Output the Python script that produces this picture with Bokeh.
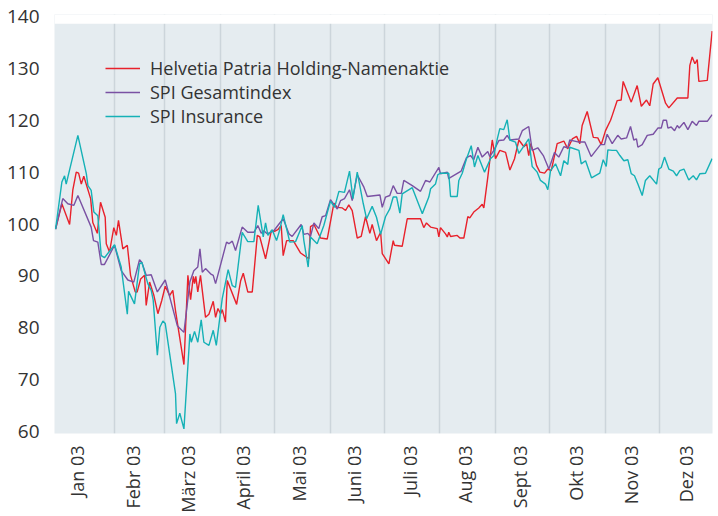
import math
from bokeh.plotting import figure
from bokeh.models import Range1d, FixedTicker, BoxAnnotation
from bokeh.embed import file_html
from bokeh.resources import INLINE

# ---------------- data ----------------
month_labels = ["Jan 03", "Febr 03", "März 03", "April 03", "Mai 03", "Juni 03",
                "Juli 03", "Aug 03", "Sept 03", "Okt 03", "Nov 03", "Dez 03"]
month_starts = [31, 59, 90, 120, 151, 181, 212, 243, 273, 304, 334]  # day of year
y_ticks = [60, 70, 80, 90, 100, 110, 120, 130, 140]

series_names = ["Helvetia Patria Holding-Namenaktie", "SPI Gesamtindex", "SPI Insurance"]

red_day = [-1.8, 1.7, 6.0, 7.8, 9.7, 11.0, 12.5, 13.9, 17.7, 18.9, 21.4, 23.2, 25.8, 26.4, 28.2,
           30.6, 32.0, 33.2, 35.6, 38.1, 39.9, 42.5, 43.6, 45.5, 47.7, 48.6, 50.5, 52.9, 55.1,
           57.3, 59.2, 61.6, 63.4, 64.9, 69.6, 71.8, 73.3, 74.8, 75.5, 76.2, 77.3, 78.8, 81.6,
           83.5, 85.9, 87.2, 88.5, 90.0, 90.9, 92.7, 93.7, 98.9, 101.1, 102.6, 105.1, 107.6,
           110.4, 111.8, 115.0, 118.2, 120.0, 121.8, 123.7, 124.8, 126.7, 130.4, 134.5, 139.1,
           140.0, 141.9, 145.6, 149.3, 153.0, 154.9, 157.7, 159.5, 161.3, 163.2, 166.0, 168.2,
           170.6, 173.0, 174.3, 176.7, 179.0, 179.9, 183.6, 186.0, 186.7, 191.0, 193.8, 201.2,
           203.0, 204.5, 206.8, 210.5, 211.4, 212.3, 215.1, 216.1, 216.9, 217.9, 221.6, 223.1,
           225.3, 227.5, 228.6, 230.8, 233.6, 235.5, 236.4, 238.6, 241.1, 242.9, 245.3, 248.5,
           250.9, 253.5, 255.9, 258.7, 260.2, 261.4, 262.4, 263.9, 265.7, 267.6, 270.2, 272.0,
           273.9, 277.2, 280.9, 283.1, 285.6, 288.0, 289.8, 291.1, 293.9, 297.3, 299.8, 301.7,
           304.1, 306.9, 307.8, 310.6, 312.8, 313.9, 318.4, 321.7, 324.0, 326.9, 328.7, 330.6,
           333.2, 337.5, 339.3, 344.0, 349.9, 351.0, 352.3, 353.8, 355.1, 356.0, 360.7, 363.4]
red_val = [99.0, 103.9, 99.9, 106.6, 110.0, 109.8, 107.7, 109.2, 104.9, 100.3, 98.2, 104.2, 101.3,
           96.2, 94.6, 99.3, 97.8, 100.7, 95.2, 95.9, 90.1, 86.9, 86.9, 89.4, 90.1, 84.3, 88.8,
           86.2, 82.7, 85.3, 88.0, 86.2, 87.2, 83.3, 72.9, 90.1, 85.4, 89.9, 88.5, 89.9, 86.9,
           90.1, 82.0, 82.6, 85.1, 82.0, 83.7, 82.7, 83.5, 81.1, 89.1, 84.5, 89.0, 90.5, 86.9,
           86.9, 97.8, 97.5, 93.3, 98.7, 98.6, 98.9, 99.7, 93.9, 96.8, 96.8, 94.4, 93.3, 99.5,
           99.9, 97.3, 97.1, 104.0, 103.2, 103.1, 102.6, 103.7, 102.6, 97.3, 97.6, 101.4, 98.2,
           99.9, 96.8, 98.4, 94.3, 92.3, 96.8, 95.9, 95.7, 101.0, 101.0, 99.3, 100.2, 99.4, 99.1,
           97.5, 99.3, 98.1, 97.5, 98.4, 97.6, 97.8, 97.3, 97.3, 101.4, 101.2, 102.3, 103.1,
           103.8, 103.1, 109.0, 116.2, 112.6, 114.2, 113.8, 110.4, 112.6, 116.2, 114.9, 115.5,
           113.2, 115.5, 114.0, 111.3, 110.0, 109.8, 110.6, 110.3, 115.5, 116.0, 114.5, 116.4,
           116.9, 115.5, 119.0, 121.7, 116.7, 116.6, 115.3, 118.0, 120.0, 120.9, 123.8, 123.9,
           127.5, 123.5, 126.7, 122.7, 123.9, 122.8, 127.0, 128.2, 123.3, 122.4, 124.3, 124.3,
           130.6, 132.2, 130.9, 131.7, 127.5, 127.7, 137.2]

purple_day = [-1.8, 2.2, 5.0, 8.4, 10.6, 18.0, 19.3, 21.7, 23.6, 25.4, 31.0, 34.7, 38.4, 41.7,
              44.9, 46.2, 48.6, 51.4, 54.8, 59.2, 65.9, 69.6, 72.9, 75.1, 77.3, 78.5, 79.8, 81.6,
              84.4, 85.9, 87.2, 93.3, 94.6, 96.5, 98.3, 102.0, 105.1, 108.5, 110.7, 112.6, 114.0,
              115.9, 119.6, 122.9, 124.8, 128.0, 129.8, 134.8, 136.3, 138.5, 140.0, 141.9, 144.6,
              146.5, 148.4, 151.1, 153.4, 154.9, 156.7, 158.9, 161.7, 163.2, 166.0, 169.7, 171.6,
              178.6, 179.9, 181.7, 184.1, 186.0, 188.2, 190.5, 191.9, 196.6, 201.2, 204.0, 206.4,
              211.4, 212.3, 216.1, 216.9, 217.9, 223.8, 226.8, 229.0, 230.8, 233.1, 235.5, 238.6,
              239.7, 242.0, 244.8, 247.5, 249.4, 250.9, 255.9, 257.8, 261.4, 263.3, 266.4, 269.5,
              272.6, 275.7, 278.1, 280.9, 283.1, 284.2, 289.3, 292.6, 296.1, 301.3, 303.5, 305.0,
              307.8, 310.9, 312.8, 315.8, 318.0, 319.8, 321.3, 322.1, 324.5, 327.3, 330.6, 333.2,
              335.1, 336.2, 338.0, 338.8, 340.6, 342.5, 344.0, 345.1, 347.7, 349.9, 352.3, 354.7,
              356.0, 360.7, 363.4]
purple_val = [99.0, 104.9, 103.9, 103.6, 105.5, 99.4, 96.8, 96.5, 92.2, 92.2, 95.9, 91.0, 89.2,
              88.8, 93.1, 92.6, 90.1, 90.2, 86.9, 89.2, 80.4, 79.1, 88.8, 91.0, 91.7, 95.2, 90.7,
              91.4, 90.4, 90.1, 88.5, 96.5, 96.2, 96.7, 94.9, 99.4, 98.4, 98.4, 99.7, 98.2, 98.7,
              98.1, 98.7, 100.2, 101.0, 98.1, 97.6, 99.9, 98.0, 98.2, 97.6, 100.2, 99.1, 101.4,
              101.6, 104.7, 103.6, 102.9, 104.5, 104.9, 106.6, 104.5, 109.5, 107.1, 105.3, 105.6,
              103.2, 105.2, 105.5, 107.4, 105.9, 105.9, 108.4, 107.4, 106.3, 108.4, 108.1, 110.9,
              109.7, 110.0, 108.7, 109.0, 110.2, 112.8, 113.2, 112.4, 114.8, 112.9, 114.0, 113.0,
              114.2, 116.1, 116.2, 117.1, 116.2, 116.4, 118.0, 118.8, 114.2, 114.7, 113.2, 110.6,
              113.8, 112.9, 114.9, 114.7, 116.2, 115.8, 115.8, 113.0, 115.3, 115.3, 117.3, 115.5,
              117.1, 116.4, 116.6, 118.8, 116.2, 116.4, 114.8, 115.3, 117.1, 117.3, 118.5, 118.5,
              120.0, 120.0, 118.5, 118.7, 118.0, 119.0, 118.5, 119.6, 118.2, 119.8, 119.0, 119.8,
              119.8, 121.1]

cyan_day = [-1.8, 1.7, 3.2, 4.1, 5.0, 10.6, 15.3, 16.2, 18.0, 19.5, 21.7, 23.6, 25.4, 31.0, 34.7,
            38.1, 38.8, 42.1, 44.9, 46.2, 49.5, 51.4, 52.5, 54.8, 56.2, 57.9, 59.2, 64.9, 65.5,
            67.3, 69.6, 72.9, 73.7, 75.5, 77.3, 79.2, 80.7, 83.5, 85.9, 87.6, 90.9, 94.2, 96.5,
            98.3, 102.0, 105.1, 108.5, 110.9, 113.7, 115.0, 116.3, 118.7, 121.1, 122.9, 124.8,
            128.5, 131.7, 135.4, 136.3, 138.7, 140.0, 143.7, 147.4, 151.1, 153.4, 155.8, 158.9,
            161.7, 163.6, 166.0, 169.3, 171.2, 174.3, 176.7, 179.0, 181.7, 184.1, 186.0, 187.9,
            189.7, 191.0, 196.6, 202.2, 205.8, 206.8, 209.5, 210.8, 212.3, 216.9, 217.9, 221.6,
            222.5, 224.4, 226.8, 229.4, 231.2, 233.1, 236.8, 240.1, 242.0, 243.9, 245.3, 247.5,
            249.4, 250.9, 254.0, 255.9, 259.6, 261.4, 263.3, 266.1, 267.9, 270.7, 272.0, 273.5,
            276.3, 279.1, 280.9, 283.1, 284.2, 289.3, 290.6, 293.0, 296.3, 300.9, 302.8, 304.5,
            305.4, 307.8, 310.2, 312.1, 314.3, 316.5, 318.4, 320.2, 322.1, 324.5, 326.3, 328.7,
            332.5, 333.7, 335.1, 336.9, 339.3, 341.8, 343.6, 345.4, 347.7, 350.4, 352.9, 354.7,
            356.6, 359.7, 363.4]
cyan_val = [99.0, 108.1, 109.3, 107.7, 109.0, 117.1, 109.7, 107.4, 106.5, 102.3, 101.6, 93.9, 93.5,
            96.0, 91.7, 82.6, 87.0, 84.6, 92.3, 92.6, 88.5, 87.2, 85.3, 74.7, 80.1, 81.3, 80.8,
            67.3, 61.5, 63.5, 60.5, 78.8, 77.2, 79.3, 77.2, 81.5, 77.2, 76.6, 79.5, 76.6, 85.6,
            91.2, 88.1, 87.8, 98.4, 96.6, 96.6, 103.6, 97.5, 100.2, 97.8, 98.9, 96.8, 98.9, 101.8,
            96.5, 96.6, 99.7, 96.8, 91.7, 97.5, 96.2, 99.7, 104.4, 103.2, 106.3, 106.1, 110.2,
            104.9, 110.0, 104.0, 101.0, 103.4, 101.3, 98.0, 101.4, 102.9, 105.2, 105.2, 102.1,
            105.8, 107.0, 102.0, 105.2, 106.8, 107.7, 109.5, 109.8, 109.8, 105.3, 105.3, 108.4,
            109.8, 112.6, 115.1, 111.0, 113.2, 110.0, 112.6, 113.2, 116.4, 118.4, 118.2, 120.1,
            116.2, 115.8, 113.6, 115.5, 116.4, 111.1, 110.0, 108.4, 107.7, 106.6, 110.3, 111.6,
            109.3, 112.2, 111.5, 114.8, 114.2, 111.6, 112.2, 108.9, 109.8, 112.4, 111.1, 114.3,
            114.2, 114.2, 113.2, 112.2, 112.4, 109.7, 109.3, 107.7, 105.5, 108.4, 109.3, 107.7,
            110.6, 110.9, 112.9, 110.6, 110.2, 109.3, 110.3, 110.6, 108.5, 109.3, 108.5, 109.7,
            109.8, 112.6]

# ---------------- styling constants ----------------
FONT = "Open Sans"
TXT = "#333333"
BG = "#e5ecf0"
GRID = "#ccd5db"
COLORS = ["#e8212b", "#7a51a3", "#15b1b6"]

label_pos = [10.3 + 30.8 * i for i in range(len(month_labels))]

p = figure(width=718, height=516, output_backend="svg", toolbar_location=None,
           x_range=Range1d(-2.4, 363.6), y_range=Range1d(59.6, 140.4),
           min_border_left=54, min_border_right=6, min_border_top=14, min_border_bottom=83)
p.outline_line_color = None
p.background_fill_color = BG
p.border_fill_color = "white"

# grid: vertical month boundaries only
p.xgrid.ticker = FixedTicker(ticks=month_starts)
p.xgrid.grid_line_color = GRID
p.xgrid.grid_line_width = 1.5
p.ygrid.grid_line_color = None

# white strip above the coloured area (140 label sits above the plot area)
p.add_layout(BoxAnnotation(bottom=138.6, fill_color="white", fill_alpha=1.0,
                           line_color=None, level="underlay"))

# axes
p.xaxis.ticker = FixedTicker(ticks=label_pos)
p.xaxis.major_label_overrides = {pos: lab for pos, lab in zip(label_pos, month_labels)}
p.xaxis.major_label_orientation = math.pi / 2
p.xaxis.major_label_standoff = 6
p.yaxis.ticker = FixedTicker(ticks=y_ticks)
p.yaxis.major_label_standoff = 9
for ax in (p.xaxis[0], p.yaxis[0]):
    ax.axis_line_color = None
    ax.major_tick_line_color = None
    ax.minor_tick_line_color = None
    ax.major_label_text_font = FONT
    ax.major_label_text_font_size = "18px"
    ax.major_label_text_color = TXT
p.yaxis.major_label_text_font_size = "19px"

for d, v, c, name in zip([red_day, purple_day, cyan_day], [red_val, purple_val, cyan_val],
                         COLORS, series_names):
    p.line(d, v, line_color=c, line_width=1.4, legend_label=name)

lg = p.legend[0]
lg.location = (51, 305)
lg.padding = 0
lg.spacing = 0
lg.margin = 0
lg.glyph_width = 35
lg.glyph_height = 24
lg.label_height = 24
lg.label_standoff = 10
lg.background_fill_alpha = 0
lg.border_line_color = None
lg.label_text_font = FONT
lg.label_text_font_size = "18px"
lg.label_text_color = TXT

open("out.html", "w").write(file_html(p, INLINE))
